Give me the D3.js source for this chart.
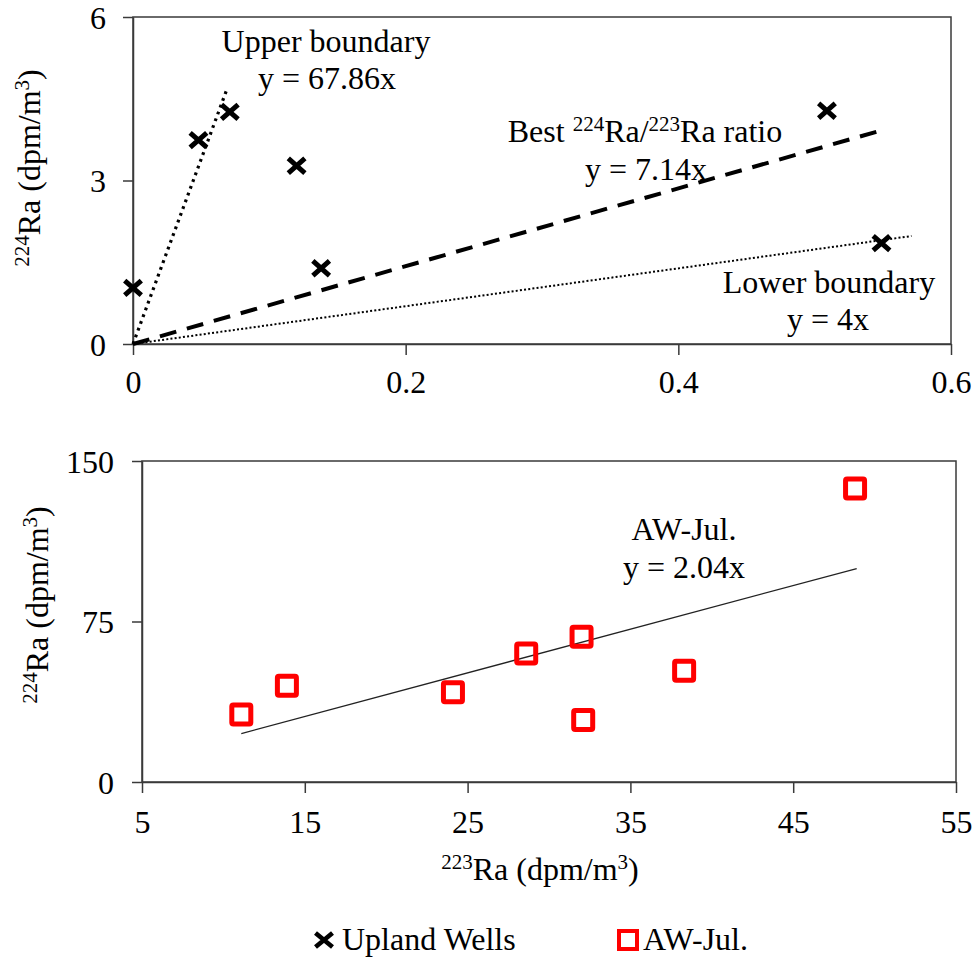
<!DOCTYPE html>
<html>
<head>
<meta charset="utf-8">
<script src="https://cdn.jsdelivr.net/npm/d3@7"></script>
<style>
  html, body { margin: 0; padding: 0; background: #fff; }
  svg text { font-family: "Liberation Serif", "Times New Roman", serif; fill: #000; }
</style>
</head>
<body>
<svg id="chart" width="978" height="960"></svg>
<script>
// ---------- DATA ----------
// Top panel: Upland Wells
const uplandX = [0, 0.048, 0.071, 0.120, 0.138, 0.509, 0.549];
const uplandY = [1.03, 3.74, 4.26, 3.27, 1.39, 4.28, 1.85];
const topXTicks = [0, 0.2, 0.4, 0.6];
const topYTicks = [0, 3, 6];
// reference lines (slope, x extent of each line)
const refNames = ["upper", "best", "lower"];
const refSlopes = [67.86, 7.14, 3.47];
const refXEnd = [0.069, 0.55, 0.571];

// Bottom panel: AW-Jul.
const awX = [11.1, 13.9, 24.1, 28.6, 32.0, 32.1, 38.3, 48.8];
const awY = [31.6, 45.0, 41.9, 60.1, 67.9, 29.0, 52.0, 137.2];
const awSlope = 2.04;
const awLineX = [11.1, 48.9];
const botXTicks = [5, 15, 25, 35, 45, 55];
const botYTicks = [0, 75, 150];

const legendLabels = ["Upland Wells", "AW-Jul."];

// ---------- DRAW ----------
const svg = d3.select("#chart");
const FONT = 32, SUP = 21;
const axisColor = "#3a3a3a";

function richText(sel, parts) {
  parts.forEach(p => {
    const t = sel.append("tspan").text(p.t);
    if (p.sup) t.attr("font-size", SUP).attr("dy", -11);
    else if (p.after) t.attr("dy", 11);
  });
}
function parts(arr) {
  const out = [];
  let prevSup = false;
  arr.forEach(a => {
    const sup = Array.isArray(a);
    const t = sup ? a[0] : a;
    out.push({t, sup, after: !sup && prevSup});
    prevSup = sup;
  });
  return out;
}

function frame(g, x, y) {
  const [x0, x1] = x.range();
  const [y0, y1] = y.range();
  g.append("rect")
    .attr("x", x0).attr("y", y1)
    .attr("width", x1 - x0).attr("height", y0 - y1)
    .attr("fill", "none").attr("stroke", axisColor).attr("stroke-width", 1.5);
}

function axes(g, x, y, xticks, yticks, xfmt, xLabelY, yLabelX) {
  const [x0] = x.range();
  const [y0] = y.range();
  const xa = g.append("g").attr("transform", `translate(0,${y0})`)
    .call(d3.axisBottom(x).tickValues(xticks).tickSize(11).tickSizeOuter(0).tickFormat(xfmt));
  xa.attr("font-family", null);
  xa.select(".domain").attr("stroke", axisColor).attr("stroke-width", 1.5);
  xa.selectAll(".tick line").attr("stroke", axisColor).attr("stroke-width", 1.5);
  xa.selectAll(".tick text").attr("font-size", FONT).attr("y", xLabelY - y0).attr("dy", 0);
  const ya = g.append("g").attr("transform", `translate(${x0},0)`)
    .call(d3.axisLeft(y).tickValues(yticks).tickSize(10).tickSizeOuter(0).tickFormat(d3.format("d")));
  ya.attr("font-family", null);
  ya.select(".domain").attr("stroke", axisColor).attr("stroke-width", 1.5);
  ya.selectAll(".tick line").attr("stroke", axisColor).attr("stroke-width", 1.5);
  ya.selectAll(".tick text").attr("font-size", FONT).attr("x", yLabelX - x0).attr("dy", "0.35em");
}

function xMark(g, cx, cy, sx, sy, w) {
  g.append("path")
    .attr("d", `M${cx - sx},${cy - sy}L${cx + sx},${cy + sy}M${cx - sx},${cy + sy}L${cx + sx},${cy - sy}`)
    .attr("stroke", "#000").attr("stroke-width", w).attr("fill", "none");
}

// ===== Top panel =====
const xT = d3.scaleLinear().domain([0, 0.6]).range([133, 951]);
const yT = d3.scaleLinear().domain([0, 6]).range([344, 17]);
const gT = svg.append("g");
frame(gT, xT, yT);
axes(gT, xT, yT, topXTicks, topYTicks, d => d === 0 ? "0" : d3.format(".1f")(d), 393, 106);

const refStyles = {
  upper: {dash: "2.8 4.4", w: 3.2},
  best: {dash: "17 11", w: 4},
  lower: {dash: "2 2.2", w: 2}
};
refNames.forEach((n, i) => {
  const st = refStyles[n];
  gT.append("line")
    .attr("x1", xT(0)).attr("y1", yT(0))
    .attr("x2", xT(refXEnd[i])).attr("y2", yT(refSlopes[i] * refXEnd[i]))
    .attr("stroke", "#000").attr("stroke-width", st.w)
    .attr("stroke-dasharray", st.dash);
});

uplandX.forEach((v, i) => xMark(gT, xT(v), yT(uplandY[i]), 8.3, 7.3, 5));

function annot(g, cx, base, arr) {
  const t = g.append("text").attr("x", cx).attr("y", base)
    .attr("text-anchor", "middle").attr("font-size", FONT);
  richText(t, parts(arr));
}
annot(gT, 326, 52, ["Upper boundary"]);
annot(gT, 327, 89, ["y = 67.86x"]);
annot(gT, 645, 142, ["Best ", ["224"], "Ra/", ["223"], "Ra ratio"]);
annot(gT, 646, 180, ["y = 7.14x"]);
annot(gT, 829, 293, ["Lower boundary"]);
annot(gT, 828, 330, ["y = 4x"]);

function yTitle(cx, cy) {
  const t = svg.append("text")
    .attr("transform", `translate(${cx},${cy}) rotate(-90)`)
    .attr("text-anchor", "middle").attr("font-size", FONT);
  richText(t, parts([["224"], "Ra (dpm/m", ["3"], ")"]));
}
yTitle(40, 168);

// ===== Bottom panel =====
const xB = d3.scaleLinear().domain([5, 55]).range([142, 956]);
const yB = d3.scaleLinear().domain([0, 150]).range([782, 461]);
const gB = svg.append("g");
frame(gB, xB, yB);
axes(gB, xB, yB, botXTicks, botYTicks, d3.format("d"), 833, 114);

gB.append("line")
  .attr("x1", xB(awLineX[0])).attr("y1", yB(awSlope * awLineX[0]))
  .attr("x2", xB(awLineX[1])).attr("y2", yB(awSlope * awLineX[1]))
  .attr("stroke", "#222").attr("stroke-width", 1.3);

const sq = 19;
gB.selectAll("rect.pt").data(awX).enter().append("rect").attr("class", "pt")
  .attr("x", (d) => xB(d) - sq / 2)
  .attr("y", (d, i) => yB(awY[i]) - sq / 2)
  .attr("width", sq).attr("height", sq).attr("rx", 1.5)
  .attr("fill", "none").attr("stroke", "#ff0000").attr("stroke-width", 5);

annot(gB, 684, 540, ["AW-Jul."]);
annot(gB, 684, 578, ["y = 2.04x"]);

yTitle(48, 605);

const xt = svg.append("text").attr("x", 540).attr("y", 880)
  .attr("text-anchor", "middle").attr("font-size", FONT);
richText(xt, parts([["223"], "Ra (dpm/m", ["3"], ")"]));

// ===== Legend =====
const lg = svg.append("g");
xMark(lg, 324, 940, 8.5, 7, 4.6);
lg.append("text").attr("x", 342).attr("y", 950).attr("font-size", FONT).text(legendLabels[0]);
lg.append("rect").attr("x", 619).attr("y", 931).attr("width", 18).attr("height", 18)
  .attr("fill", "none").attr("stroke", "#ff0000").attr("stroke-width", 4);
lg.append("text").attr("x", 643).attr("y", 950).attr("font-size", FONT).text(legendLabels[1]);
</script>
</body>
</html>
